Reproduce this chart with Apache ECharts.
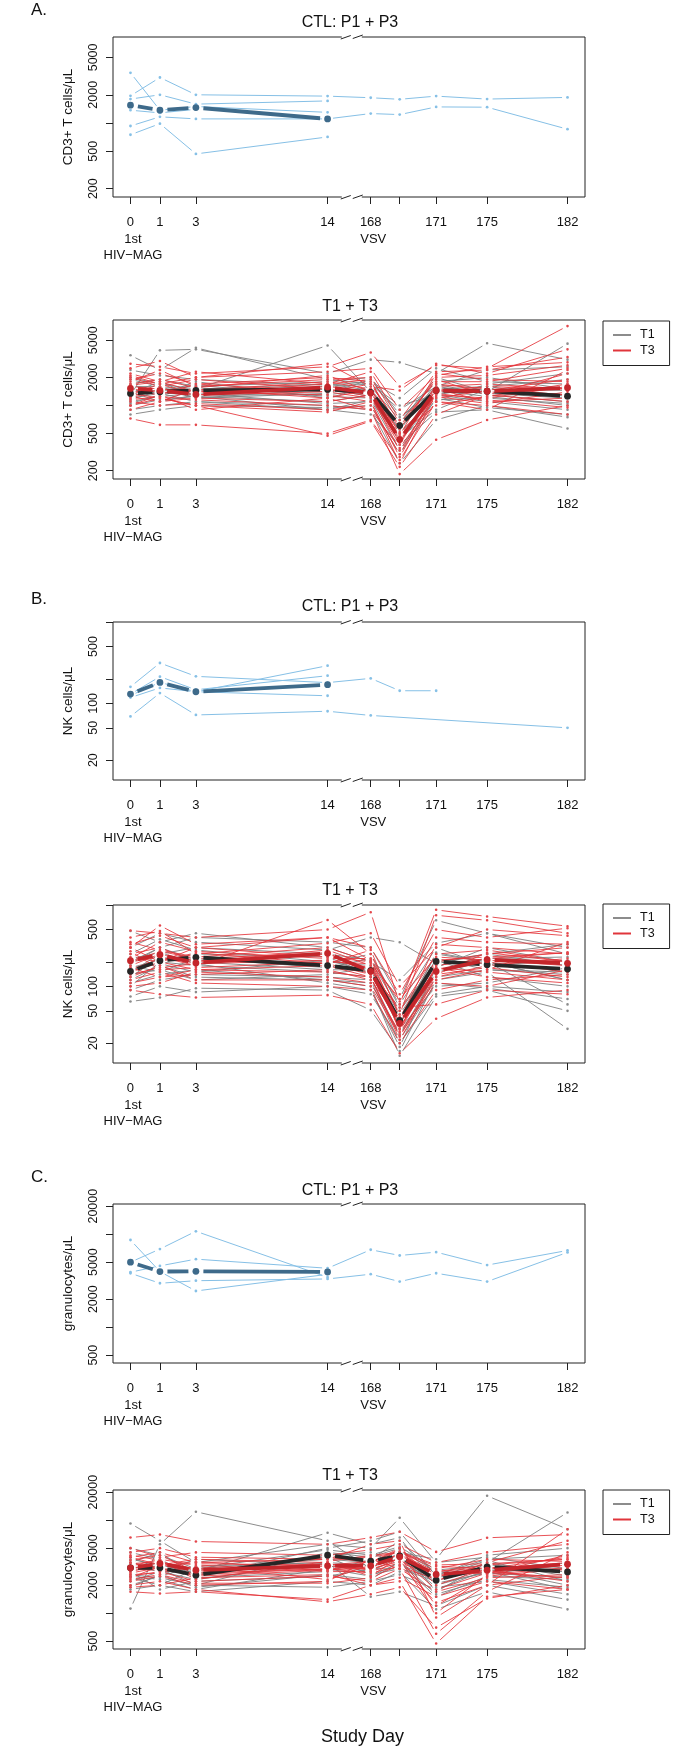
<!DOCTYPE html>
<html><head><meta charset="utf-8">
<script src="https://cdn.jsdelivr.net/npm/echarts@6/dist/echarts.min.js"></script>
<style>html,body{margin:0;padding:0;background:#fff}#c{width:700px;height:1748px}</style>
</head><body><div id="c"></div>
<script>
// ---------- axis categories / tick labels ----------
const dayLabels = ['0', '1', '3', '14', '168', '', '171', '175', '182'];
const eventLabels = ['1st\nHIV\u2212MAG', '', '', '', 'VSV', '', '', '', ''];
// layout: horizontal position of each study day on the broken axis
const xPositions = [0, 6.74, 14.97, 45.1, 54.97, 61.6, 69.94, 81.6, 100];
const breakPos = 50.63;

const yNames = ['CD3+ T cells/\u03bcL', 'NK cells/\u03bcL', 'granulocytes/\u03bcL'];
const yTickVals = [[200, 500, 1000, 2000, 5000], [20, 50, 100, 200, 500, 1000], [500, 1000, 2000, 5000, 10000, 20000]];
const yLabelVals = [[200, 500, 2000, 5000], [20, 50, 100, 500], [500, 2000, 5000, 20000]];
const yRanges = [[163, 8250], [11.4, 1003], [412, 21100]];
const panelTitles = ['CTL: P1 + P3', 'T1 + T3'];
const sectionLabels = ['A.', 'B.', 'C.'];
const legendNames = ['T1', 'T3'];

// ---------- CD3+ T cells ----------
const ctlA = [
  [3430, 1370, 1500, 1300, null, null, null, null, null],
  [1950, 3055, 2000, 1935, 1860, 1790, 1935, 1800, 1875],
  [1800, 2000, 1590, 1720, null, null, null, null, null],
  [930, 1165, 1107, 1107, 1262, 1230, 1485, 1475, 860],
  [1370, 1283, 1400, null, null, null, null, null, null],
  [750, 985, 469, 711, null, null, null, null, null]
];
const ctlMeanA = [1550, 1370, 1460, 1107, null, null, null, null, null];
const t1A = [
  [3450, 2400, 4150, 1900, 1700, 1000, 1300, 1600, 1250],
  [1300, 3900, 4000, 2200, 3100, 2900, 2200, 4650, 3100],
  [2000, 1700, 1500, 4400, 1400, 650, 2000, 1400, 4600],
  [1100, 1250, 1350, 1050, 1100, 500, 1300, 1100, 900],
  [1500, 1300, 1800, 1200, 1600, 700, 1800, 2000, 1500],
  [900, 1000, 1100, 900, 800, 380, 850, 900, 566],
  [1250, 1500, 1200, 1500, 1250, 560, 1700, 1300, 1100],
  [1700, 1900, 1600, 1800, 2000, 800, 1100, 1700, 2200],
  [800, 900, 1000, 950, 1000, 300, 1200, 950, 800],
  [1400, 1100, 1300, 1300, 1500, 620, 1450, 1250, 1000],
  [1000, 1150, 1250, 1100, 1300, 450, 900, 1500, 1300],
  [2400, 2100, 1900, 1650, 1800, 1200, 2500, 1800, 1700],
  [1200, 1350, 1100, 1000, 900, 240, 700, 1000, 750],
  [1600, 1600, 1450, 1600, 1700, 900, 1600, 2400, 2600],
  [1150, 1450, 1650, 1250, 1200, 420, 1150, 1200, 1050],
  [1900, 1600, 1200, 1350, 1900, 750, 1500, 1600, 1900],
  [1050, 1300, 1500, 1700, 1450, 550, 1600, 1350, 1200],
  [1350, 1800, 1250, 900, 1150, 330, 1350, 1500, 1450]
];
const t3A = [
  [2800, 2600, 2200, 2600, 3700, 1600, 2700, 2500, 7100],
  [725, 620, 620, 500, 700, 260, 1100, 900, 2400],
  [1500, 1400, 1300, 1600, 1400, 450, 1300, 1200, 1600],
  [1900, 2200, 1700, 2000, 1800, 560, 2000, 2100, 2700],
  [1100, 1000, 1050, 900, 1000, 300, 1500, 1100, 1200],
  [1300, 1700, 1300, 1400, 1200, 380, 1700, 1500, 1300],
  [2200, 1800, 2300, 1700, 2300, 700, 2300, 2400, 3300],
  [1000, 1300, 900, 1200, 900, 184, 430, 700, 1000],
  [1600, 1500, 1450, 1800, 1500, 520, 1200, 1450, 1900],
  [1350, 1200, 1000, 475, 680, 220, 800, 1300, 1100],
  [2500, 3000, 2000, 2800, 1600, 1450, 2800, 2200, 4000],
  [1700, 1900, 1550, 2100, 1400, 400, 1600, 1700, 1500],
  [900, 1100, 1200, 1100, 1300, 330, 1100, 1000, 800],
  [1450, 1300, 1700, 1400, 1700, 600, 1900, 1300, 2200],
  [1200, 1500, 1400, 1300, 1100, 280, 1400, 1600, 1500],
  [2000, 1600, 1900, 1500, 1250, 480, 2200, 1900, 1800],
  [1150, 1250, 1150, 1000, 900, 350, 1250, 1050, 1400],
  [1800, 2400, 1600, 1900, 2000, 650, 1800, 1800, 2500],
  [1250, 1100, 1500, 1200, 1500, 500, 1000, 1250, 1700],
  [1650, 1800, 1400, 1700, 1900, 420, 1500, 1400, 1300],
  [2100, 1700, 2000, 2300, 2500, 900, 2100, 2600, 2900],
  [1000, 1200, 1000, 850, 1100, 240, 1350, 1150, 950]
];
const t1MeanA = [1346, 1403, 1449, 1486, 1380, 610, 1449, 1425, 1259];
const t3MeanA = [1523, 1449, 1313, 1574, 1358, 432, 1449, 1425, 1549];

// ---------- NK cells ----------
const ctlB = [
  [160, 314, 215, 180, 203, 143, 143, null, null],
  [130, 213, 147, 219, null, null, null, null, null],
  [125, 181, 139, 124, null, null, null, null, null],
  [69, 134, 72, 80, 71, null, null, null, 50],
  [118, 155, 139, 291, null, null, null, null, null]
];
const ctlMeanB = [130, 181, 139, 170, null, null, null, null, null];
const t1B = [
  [480, 350, 451, 300, 200, 120, 340, 450, 250],
  [65, 73, 95, 90, 51, 16, 120, 150, 30],
  [150, 250, 300, 250, 210, 50, 200, 250, 180],
  [100, 200, 180, 150, 130, 25, 150, 200, 120],
  [200, 300, 400, 350, 300, 70, 650, 450, 300],
  [130, 230, 200, 160, 160, 30, 100, 110, 170],
  [250, 380, 280, 200, 180, 40, 250, 200, 60],
  [180, 150, 220, 170, 220, 60, 300, 180, 210],
  [90, 120, 140, 130, 120, 20, 80, 100, 85],
  [300, 450, 350, 280, 400, 349, 190, 250, 330],
  [120, 180, 130, 120, 100, 14, 75, 90, 50],
  [170, 210, 250, 230, 140, 35, 220, 160, 140],
  [220, 260, 190, 110, 90, 18, 170, 300, 200],
  [140, 160, 120, 140, 170, 45, 210, 130, 100],
  [110, 140, 160, 120, 110, 26, 130, 160, 150],
  [190, 300, 210, 190, 250, 55, 180, 220, 230],
  [160, 190, 150, 210, 150, 33, 260, 200, 120],
  [75, 100, 85, 100, 80, 22, 110, 95, 70]
];
const t3B = [
  [486, 450, 400, 500, 818, 60, 875, 724, 550],
  [300, 560, 330, 400, 300, 80, 500, 400, 520],
  [250, 300, 200, 280, 180, 30, 200, 250, 300],
  [200, 230, 180, 657, 250, 45, 750, 650, 450],
  [150, 200, 160, 180, 130, 22, 130, 180, 220],
  [110, 130, 140, 160, 120, 40, 160, 200, 150],
  [350, 280, 230, 300, 200, 28, 180, 220, 260],
  [90, 80, 73, 78, 60, 15, 40, 73, 90],
  [180, 250, 190, 250, 160, 50, 250, 280, 200],
  [220, 350, 270, 220, 220, 35, 170, 130, 110],
  [130, 180, 120, 120, 100, 25, 110, 100, 160],
  [400, 480, 250, 340, 450, 100, 300, 500, 420],
  [160, 220, 210, 190, 140, 32, 140, 170, 130],
  [270, 160, 170, 200, 190, 70, 230, 210, 180],
  [120, 150, 110, 100, 90, 20, 90, 120, 140],
  [300, 200, 300, 230, 200, 38, 330, 300, 250],
  [200, 270, 220, 260, 140, 55, 60, 90, 80],
  [100, 110, 150, 130, 110, 27, 120, 160, 350],
  [230, 200, 260, 190, 280, 42, 210, 230, 260],
  [140, 170, 190, 210, 170, 30, 170, 150, 120],
  [330, 420, 300, 400, 210, 65, 400, 350, 330],
  [170, 130, 160, 150, 130, 24, 140, 260, 200]
];
const t1MeanB = [153, 207, 228, 180, 156, 38, 203, 185, 163];
const t3MeanB = [207, 245, 194, 255, 153, 35, 153, 213, 192];

// ---------- granulocytes ----------
const ctlC = [
  [8650, 3960, 2450, 3700, null, null, null, null, null],
  [5000, 6920, 10740, 3440, null, null, null, null, null],
  [3900, 4560, 5390, 4300, 6800, 5900, 6410, 4650, 6680],
  [3800, 2965, 3160, 3300, 3710, 3090, 3800, 3090, 6370]
];
const ctlMeanC = [5000, 3960, 3990, 3930, null, null, null, null, null];
const t1C = [
  [9200, 6000, 3500, 5500, 5000, 10600, 3500, 4000, 3000],
  [1120, 5500, 12300, 6000, 3000, 4500, 3800, 18270, 8000],
  [3000, 3500, 2800, 7310, 5500, 6500, 2000, 2800, 1800],
  [2500, 2300, 1800, 3000, 2500, 3500, 1500, 2500, 2300],
  [4000, 3000, 2000, 4500, 4000, 5000, 1700, 3500, 12100],
  [2000, 2500, 3200, 3500, 1500, 1700, 1200, 2000, 1400],
  [3500, 4500, 2500, 5000, 6000, 7500, 2500, 4200, 5000],
  [1800, 2000, 1700, 2200, 2000, 2800, 1100, 1700, 1100],
  [5000, 4200, 3000, 3800, 3500, 4800, 2800, 2600, 3500],
  [2800, 1800, 2200, 2500, 3000, 3000, 2200, 3500, 2500],
  [3500, 3000, 2600, 4200, 4500, 3300, 2400, 3000, 2000],
  [2200, 2800, 3800, 3300, 2800, 4000, 1900, 2200, 1600],
  [4500, 3800, 2400, 2800, 3800, 6000, 2600, 3800, 4200],
  [2600, 2400, 2000, 1900, 2200, 2600, 1800, 2900, 2800],
  [3200, 2800, 2300, 3500, 3300, 3800, 2100, 2700, 2400],
  [2400, 2000, 3000, 4800, 4200, 5200, 2900, 3300, 3000],
  [3800, 3300, 2700, 4000, 2600, 3000, 2400, 3700, 2200],
  [1900, 2600, 1900, 2600, 2300, 3600, 1600, 2300, 1900]
];
const t3C = [
  [6500, 7000, 5900, 5500, 6500, 7500, 4560, 6460, 7000],
  [1700, 1625, 1700, 1400, 2000, 2200, 472, 1500, 1800],
  [3000, 3500, 3000, 3200, 3000, 5000, 2000, 3000, 3500],
  [4000, 4500, 3500, 3800, 5500, 6000, 900, 2000, 8000],
  [2500, 2800, 2200, 2500, 2200, 3000, 1700, 2400, 2600],
  [5000, 4000, 4500, 4200, 4800, 5500, 3500, 4500, 5500],
  [2000, 2200, 1800, 1325, 1600, 1900, 700, 1440, 2000],
  [3500, 3000, 2600, 3000, 3000, 3600, 2800, 3300, 3800],
  [2800, 3300, 3800, 3500, 2500, 4000, 1200, 2500, 3000],
  [2200, 2500, 2000, 2200, 3800, 3000, 600, 1700, 4500],
  [4500, 5000, 4000, 3800, 4000, 4500, 3000, 3800, 3600],
  [3200, 3800, 3300, 2800, 2800, 3500, 2500, 2800, 2400],
  [1900, 2000, 2400, 2600, 2000, 2400, 1500, 2200, 1800],
  [3700, 4200, 2800, 4000, 3500, 5000, 2200, 3500, 6000],
  [2600, 2700, 3200, 2300, 3300, 3800, 1000, 2600, 3100],
  [4200, 3700, 2300, 3600, 4200, 4500, 3200, 3000, 4000],
  [3000, 2900, 2700, 3000, 2700, 3200, 2300, 2900, 2200],
  [2400, 3200, 3600, 2900, 3600, 4200, 2600, 2700, 3300],
  [2700, 3100, 2500, 2900, 3100, 4300, 2800, 3100, 2900],
  [3400, 3600, 2900, 3400, 2900, 3900, 1800, 2700, 4200],
  [2300, 2600, 2100, 2100, 2400, 3300, 1300, 2000, 2500],
  [4000, 3300, 3400, 3300, 3600, 4600, 3300, 3400, 3800]
];
const t1MeanC = [3070, 3070, 2565, 4205, 3625, 4130, 2265, 3150, 2780];
const t3MeanC = [3070, 3420, 2900, 3230, 3230, 4040, 2610, 2900, 3365];

// ---------- layout & style ----------
const gridTops = [37, 320, 622, 905, 1204, 1490];
const gridHeights = [160, 159, 158, 158, 159, 159];
const titleTops = [15, 299, 599, 883, 1183, 1468];
const sectionTops = [2, 591, 1169];
const legendTops = [321, 904, 1490];
const FONT = 'Liberation Sans, Arial, Helvetica, sans-serif';
const C = {
  ctl: '#86c0e6', ctlMean: '#3e6a8a',
  t1: 'rgba(128,128,128,0.9)', t1Pt: '#8c8c8c', t1Mean: '#262626',
  t3: 'rgba(228,52,58,0.85)', t3Pt: '#e4474c', t3Mean: '#c4262b',
  axis: '#222', text: '#111'
};

const chart = echarts.init(document.getElementById('c'), null, {renderer: 'canvas'});

function trajSeries(gi, rows, lineColor, ptColor, lw, r, gap, z) {
  return {
    type: 'custom', xAxisIndex: gi, yAxisIndex: gi, z: z, silent: true, clip: false,
    data: rows.map(row => [xPositions[0], row[0]]),
    renderItem: function (params, api) {
      const row = rows[params.dataIndex];
      const pts = [];
      row.forEach((v, t) => { if (v != null) pts.push(api.coord([xPositions[t], v])); });
      const children = [];
      for (let k = 0; k < pts.length - 1; k++) {
        const x1 = pts[k][0], y1 = pts[k][1], x2 = pts[k + 1][0], y2 = pts[k + 1][1];
        const dx = x2 - x1, dy = y2 - y1, len = Math.hypot(dx, dy);
        if (len > 2 * gap + 1) {
          const ux = dx / len, uy = dy / len;
          children.push({type: 'line', shape: {x1: x1 + ux * gap, y1: y1 + uy * gap, x2: x2 - ux * gap, y2: y2 - uy * gap},
            style: {stroke: lineColor, lineWidth: lw, lineCap: 'butt'}});
        }
      }
      pts.forEach(p => children.push({type: 'circle', shape: {cx: p[0], cy: p[1], r: r}, style: {fill: ptColor}}));
      return {type: 'group', children: children};
    }
  };
}

function breakSeries(gi, m) {
  return {
    type: 'custom', xAxisIndex: gi, yAxisIndex: gi, z: 20, silent: true, clip: false,
    data: [[breakPos, yRanges[m][0]]],
    renderItem: function (params, api) {
      const mk = (p) => [
        {type: 'rect', shape: {x: p[0] - 10, y: p[1] - 2.5, width: 20, height: 5}, style: {fill: '#fff'}},
        {type: 'line', shape: {x1: p[0] - 11, y1: p[1] + 2, x2: p[0] - 1, y2: p[1] - 1.5}, style: {stroke: C.axis, lineWidth: 1}},
        {type: 'line', shape: {x1: p[0] + 1, y1: p[1] + 1.5, x2: p[0] + 11, y2: p[1] - 2}, style: {stroke: C.axis, lineWidth: 1}}
      ];
      const top = api.coord([breakPos, yRanges[m][1]]);
      const bot = api.coord([breakPos, yRanges[m][0]]);
      return {type: 'group', children: mk(top).concat(mk(bot))};
    }
  };
}

const grids = [], xAxes = [], xAxes2 = [], yAxes = [], series = [], titles = [], legends = [];
const ctlSets = [[ctlA, ctlMeanA], [ctlB, ctlMeanB], [ctlC, ctlMeanC]];
const trtSets = [[t1A, t3A, t1MeanA, t3MeanA], [t1B, t3B, t1MeanB, t3MeanB], [t1C, t3C, t1MeanC, t3MeanC]];
const labelFmt = (labels) => function (v) {
  const i = xPositions.findIndex(p => Math.abs(p - v) < 1e-6);
  return i >= 0 ? labels[i] : '';
};

for (let gi = 0; gi < 6; gi++) {
  const m = Math.floor(gi / 2);
  grids.push({left: 113, width: 472, top: gridTops[gi], height: gridHeights[gi], show: true,
    borderColor: C.axis, borderWidth: 1, backgroundColor: 'transparent'});
  xAxes.push({
    type: 'value', gridIndex: gi, min: -4, max: 104, position: 'bottom',
    axisLine: {show: false, onZero: false}, splitLine: {show: false},
    axisTick: {show: true, customValues: xPositions, length: 7, lineStyle: {color: C.axis, width: 1}},
    axisLabel: {show: true, customValues: xPositions, margin: 17, fontSize: 13, lineHeight: 16.5,
      color: C.text, fontFamily: FONT, hideOverlap: false, showMinLabel: true, showMaxLabel: true,
      formatter: labelFmt(dayLabels)}
  });
  xAxes2.push({
    type: 'value', gridIndex: gi, min: -4, max: 104, position: 'bottom',
    axisLine: {show: false, onZero: false}, splitLine: {show: false}, axisTick: {show: false},
    axisLabel: {show: true, customValues: [xPositions[0], xPositions[4]], margin: 35, fontSize: 13, lineHeight: 15.5,
      color: C.text, fontFamily: FONT, hideOverlap: false, showMinLabel: true, showMaxLabel: true,
      padding: [0, 0, 0, 5], formatter: labelFmt(eventLabels)}
  });
  yAxes.push({
    type: 'log', logBase: 10, gridIndex: gi, min: yRanges[m][0], max: yRanges[m][1], position: 'left',
    axisLine: {show: false, onZero: false}, splitLine: {show: false},
    axisTick: {show: true, customValues: yTickVals[m], length: 7, lineStyle: {color: C.axis, width: 1}},
    axisLabel: {show: true, customValues: yLabelVals[m], rotate: 90, margin: 13, fontSize: 12.5, color: C.text,
      fontFamily: FONT, showMinLabel: true, showMaxLabel: true, formatter: v => String(Math.round(v))},
    name: yNames[m], nameLocation: 'middle', nameGap: 38,
    nameTextStyle: {fontSize: 13.5, color: C.text, fontFamily: FONT}
  });
  titles.push({text: panelTitles[gi % 2], left: 'center', top: titleTops[gi], padding: 0,
    textStyle: {fontSize: 16, fontWeight: 'normal', color: C.text, fontFamily: FONT}});

  if (gi % 2 === 0) {
    const [ind, mean] = ctlSets[m];
    series.push(trajSeries(gi, ind, C.ctl, C.ctl, 1, 1.4, 5.5, 3));
    series.push(trajSeries(gi, [mean], C.ctlMean, C.ctlMean, 3.8, 3.4, 7.5, 5));
  } else {
    const [t1, t3, m1, m3] = trtSets[m];
    series.push(trajSeries(gi, t1, C.t1, C.t1Pt, 1, 1.3, 5.5, 3));
    series.push(trajSeries(gi, t3, C.t3, C.t3Pt, 1, 1.3, 5.5, 4));
    series.push(trajSeries(gi, [m1], C.t1Mean, C.t1Mean, 3.8, 3.4, 7.5, 6));
    series.push(trajSeries(gi, [m3], C.t3Mean, C.t3Mean, 3.8, 3.4, 7.5, 7));
    series.push({type: 'line', name: legendNames[0], xAxisIndex: gi, yAxisIndex: gi, data: [], symbol: 'none',
      lineStyle: {color: '#8c8c8c', width: 2}, itemStyle: {color: '#8c8c8c'}});
    series.push({type: 'line', name: legendNames[1], xAxisIndex: gi, yAxisIndex: gi, data: [], symbol: 'none',
      lineStyle: {color: '#e0353b', width: 2}, itemStyle: {color: '#e0353b'}});
    legends.push({orient: 'vertical', left: 603, top: legendTops[m], padding: [7, 15, 8, 10], itemGap: 1.5,
      icon: 'rect', itemWidth: 18, itemHeight: 2, borderColor: C.axis, borderWidth: 1, selectedMode: false,
      data: legendNames, textStyle: {fontSize: 12.5, lineHeight: 14, height: 14, color: C.text, fontFamily: FONT, padding: [0, 0, 0, 4]}});
  }
  series.push(breakSeries(gi, m));
}
sectionLabels.forEach((s, i) => titles.push({text: s, left: 31, top: sectionTops[i], padding: 0,
  textStyle: {fontSize: 17, fontWeight: 'normal', color: C.text, fontFamily: FONT}}));
titles.push({text: 'Study Day', left: 321, top: 1728, padding: 0,
  textStyle: {fontSize: 18, fontWeight: 'normal', color: C.text, fontFamily: FONT}});

chart.setOption({
  animation: false, backgroundColor: '#fff',
  title: titles, legend: legends, grid: grids, xAxis: xAxes.concat(xAxes2), yAxis: yAxes, series: series
});
</script></body></html>
